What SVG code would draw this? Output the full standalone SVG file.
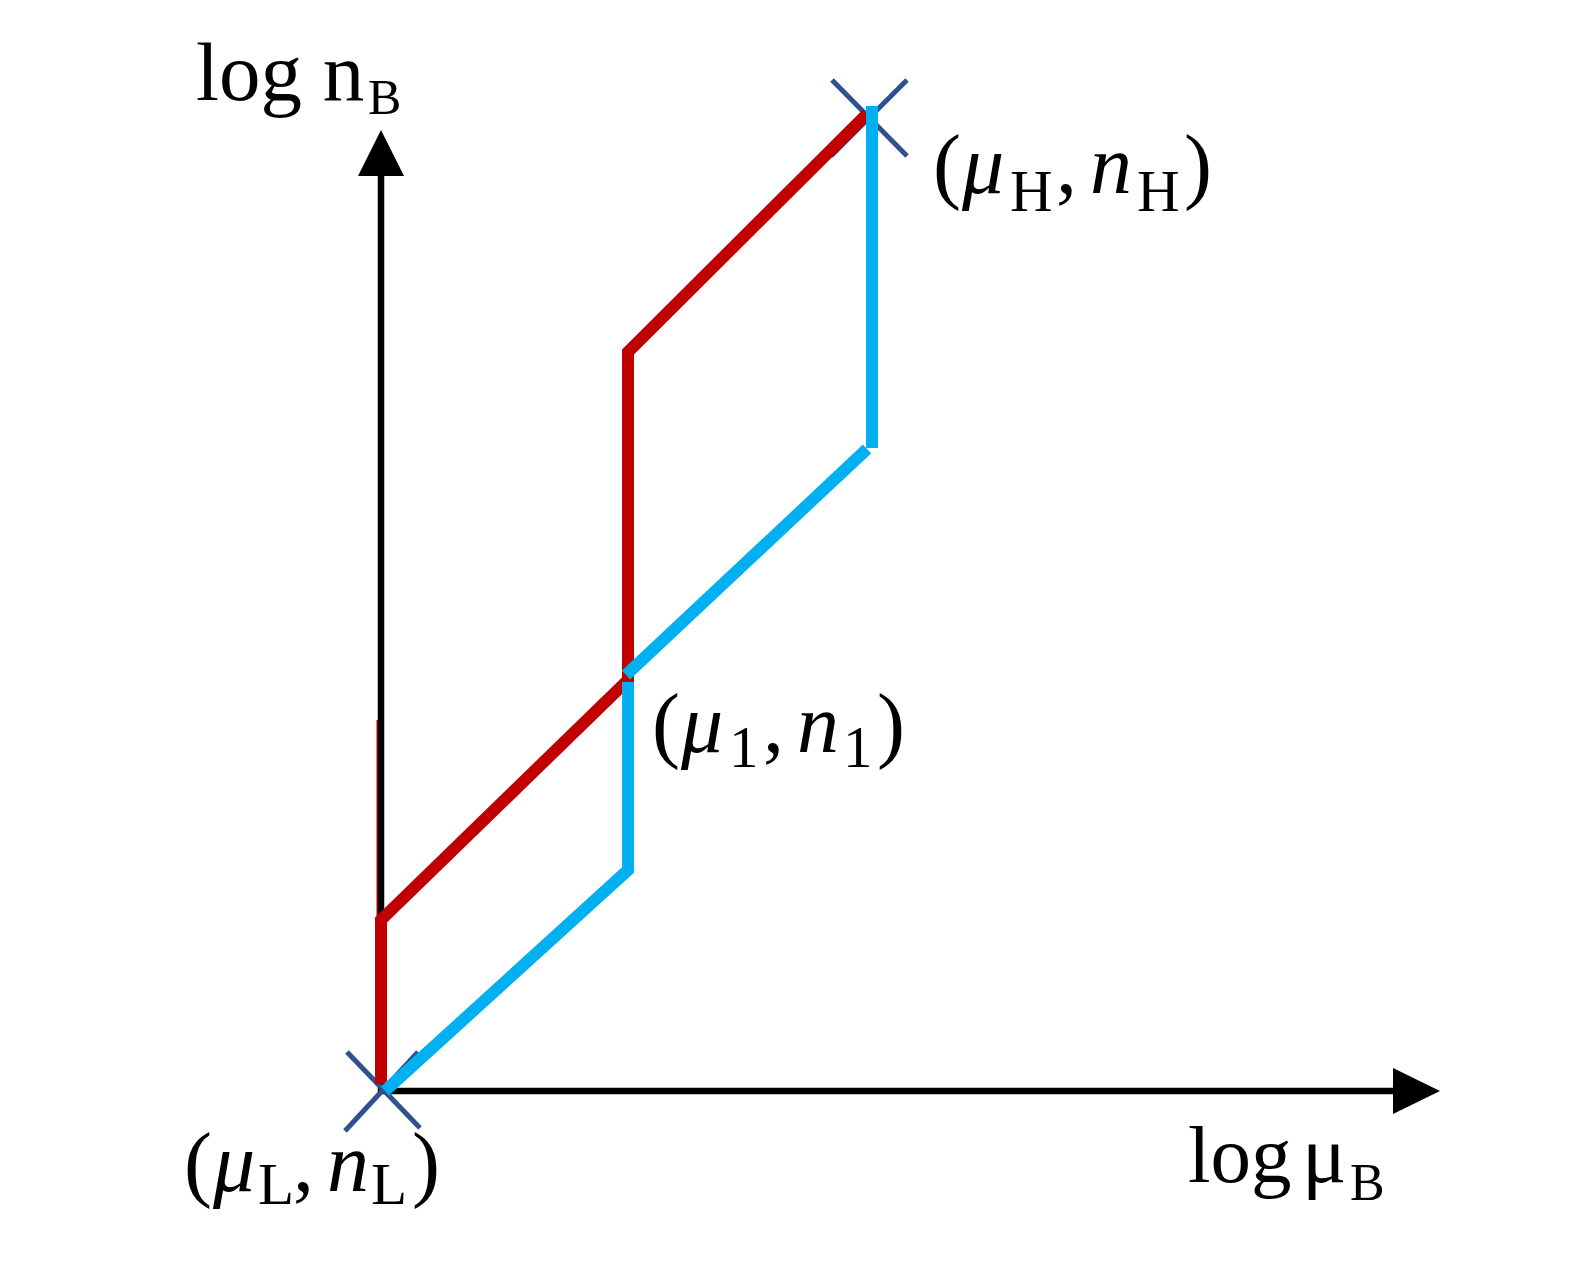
<svg xmlns="http://www.w3.org/2000/svg" width="1595" height="1269" viewBox="0 0 1595 1269">
<style>
.t{font-family:"Liberation Serif","Times New Roman",serif;fill:#000}
.m{font-size:84px}
.s{font-size:59px}
.i{font-style:italic}
.ax{stroke:#000;stroke-width:6.5;fill:none}
.xm{stroke:#2F528F;stroke-width:5;fill:none}
.red{stroke:#C00000;stroke-width:12;fill:none;stroke-linejoin:miter}
.cy{stroke:#00B0F0;stroke-width:12;fill:none;stroke-linejoin:miter}
</style>
<rect width="1595" height="1269" fill="#fff"/>
<g id="red-trace">
<line x1="378" y1="720" x2="378" y2="920" stroke="#C00000" stroke-width="3"/>
</g>
<g id="axes">
<line class="ax" x1="381" y1="1094" x2="381" y2="172"/>
<polygon points="381,130 358,176 404,176" fill="#000"/>
<line class="ax" x1="378" y1="1091" x2="1396" y2="1091"/>
<polygon points="1440,1091 1393,1068 1393,1114" fill="#000"/>
</g>
<g id="label-y">
<text class="t" x="196" y="100" font-size="83">log n</text>
<text class="t" x="368" y="114" font-size="50">B</text>
</g>
<g id="label-x">
<text class="t" x="1188" y="1182" font-size="81">log</text>
<text class="t" x="1302" y="1182" font-size="83">μ</text>
<text class="t" x="1350" y="1200" font-size="52">B</text>
</g>
<g id="node-L">
<line class="xm" x1="347" y1="1052" x2="420" y2="1128"/>
<line class="xm" x1="345" y1="1131" x2="418" y2="1052"/>
<text class="t m" x="184" y="1191">(</text>
<text class="t m i" x="213" y="1191">μ</text>
<text class="t s" x="258" y="1204">L</text>
<text class="t m" x="293" y="1191">,</text>
<text class="t m i" x="327" y="1191">n</text>
<text class="t s" x="371" y="1204">L</text>
<text class="t m" x="412" y="1191">)</text>
</g>
<g id="node-1">
<text class="t m" x="652" y="752">(</text>
<text class="t m i" x="681" y="752">μ</text>
<text class="t s" x="729" y="767">1</text>
<text class="t m" x="763" y="752">,</text>
<text class="t m i" x="797" y="752">n</text>
<text class="t s" x="843" y="767">1</text>
<text class="t m" x="877" y="752">)</text>
</g>
<g id="node-H">
<line class="xm" x1="832" y1="80" x2="907" y2="156"/>
<line class="xm" x1="907" y1="80" x2="831" y2="156"/>
<text class="t m" x="933" y="193">(</text>
<text class="t m i" x="962" y="193">μ</text>
<text class="t s" x="1010" y="211">H</text>
<text class="t m" x="1056" y="193">,</text>
<text class="t m i" x="1090" y="193">n</text>
<text class="t s" x="1137" y="211">H</text>
<text class="t m" x="1184" y="193">)</text>
</g>
<g id="connectors">
<path class="red" d="M381,1084 L381,920 L628,680 L628,352 L867,114"/>
<path class="cy" d="M385,1091 L628,870 L628,682"/>
<path class="cy" d="M626,675 L867,449"/>
<path class="cy" d="M872,448 L872,106"/>
</g>
</svg>
